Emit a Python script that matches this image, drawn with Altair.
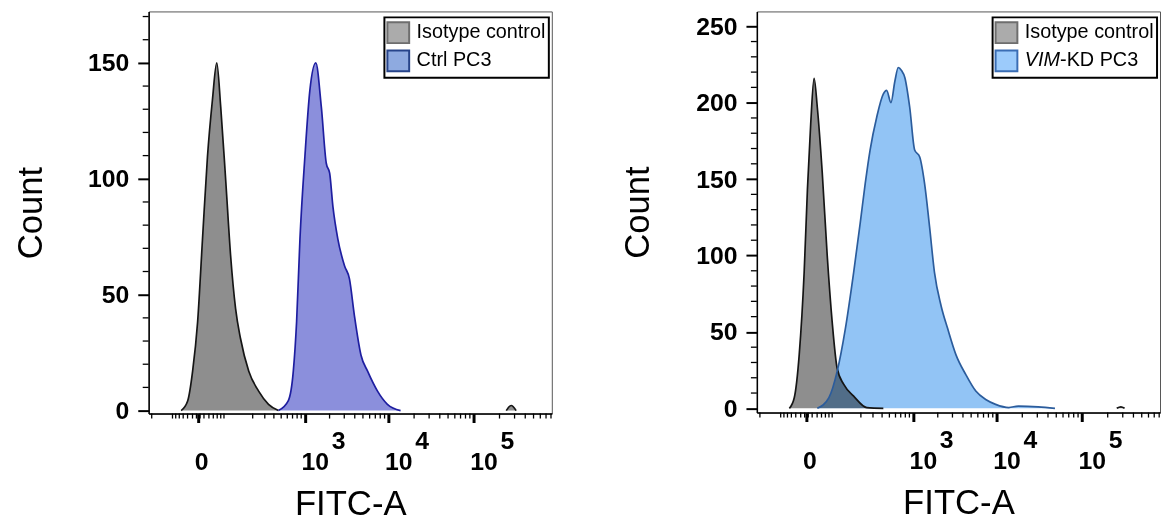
import altair as alt
import pandas as pd

FONT = "Liberation Sans"

# ---------------- data: FITC-A intensity (x) and event count (y) ----------------
# Left panel: Isotype control vs Ctrl PC3
iso1_x = [-35, -19.8, -9.8, -1.1, 7.3, 16.9, 27.9, 38.8, 49.9, 65.6, 83.5, 104, 127, 174, 245, 338, 460]
iso1_y = [0, 4.1, 17, 38, 74, 109.5, 134, 150, 131, 99.6, 66.8, 44, 31.2, 17, 8.4, 2.7, 0]
iso1_tail_x = [240000, 274000, 313000]
iso1_tail_y = [0, 2.2, 0]
ctrl_x = [460, 619, 716, 788, 868, 1000, 1151, 1362, 1590, 1825, 2005, 2195, 2515, 3020,
          3460, 3960, 4735, 5675, 7430, 9720, 13880]
ctrl_y = [0, 4.3, 17, 38.3, 74, 109.5, 138, 150, 131, 106.7, 102.4, 88, 74, 62.5,
          56.8, 41, 24, 17, 8.4, 2.7, 0]

# Right panel: Isotype control vs VIM-KD PC3
iso2_x = [-35, -23.3, -12.9, -3.8, 1.6, 7.3, 13.7, 20.4, 31.9, 45, 60, 77, 104, 154, 245, 416]
iso2_y = [0, 6.9, 35, 89, 143, 186, 216, 197, 154, 100, 56.6, 26.4, 15.6, 8, 0.5, 0]
iso2_tail_x = [255000, 285000, 315000]
iso2_tail_y = [0, 1, 0]
vim_x = [20.4, 49.9, 77, 111, 154, 195, 232, 273, 338, 416, 460, 524, 589, 651, 716, 788,
         908, 1046, 1204, 1385, 1590, 1825, 2195, 2635, 3305, 4330, 5675, 7430, 9720,
         13880, 18000, 30700, 48300]
vim_y = [0, 7, 24, 52, 89, 121, 147, 169, 190.5, 205.7, 208, 200, 214, 223, 221, 216.5,
         197, 169, 164.6, 147, 119, 89, 67, 52, 35, 22, 11.3, 5.8, 2.6,
         0.5, 1.5, 1, 0]

# legend texts
legend_iso = "Isotype control"
legend_ctrl = "Ctrl PC3"
legend_vim_italic = "VIM"
legend_vim_rest = "-KD PC3"

# axis ticks
x_major = [0, 1000, 10000, 100000]
x_sup = ["3", "4", "5"]
x_sup_at = [1000, 10000, 100000]
x_minor = [-150, -60, -50, -40, -30, -20, -10, -3, 3, 10, 20, 30, 40, 50, 60,
           200, 300, 400, 500, 600, 700, 800, 900,
           2000, 3000, 4000, 5000, 6000, 7000, 8000, 9000,
           20000, 30000, 40000, 50000, 60000, 70000, 80000, 90000,
           200000, 300000, 400000, 500000, 600000, 700000, 800000]
y_major_left = [0, 50, 100, 150]
y_minor_left = [10, 20, 30, 40, 60, 70, 80, 90, 110, 120, 130, 140, 160, 170]
y_major_right = [0, 50, 100, 150, 200, 250]
y_minor_right = [10, 20, 30, 40, 60, 70, 80, 90, 110, 120, 130, 140, 160, 170, 180, 190,
                 210, 220, 230, 240]

# colours
GRAY_FILL = "#8e8e8e"
GRAY_LINE = "#151515"
CTRL_FILL = "#8b8fdc"
CTRL_LINE = "#1e1ea0"
VIM_FILL = "#92c4f5"
VIM_LINE = "#2b5c9c"
ISO_SW_FILL, ISO_SW_STROKE = "#ababab", "#6e6e6e"
CTRL_SW_FILL, CTRL_SW_STROKE = "#8eaae0", "#27448a"
VIM_SW_FILL, VIM_SW_STROKE = "#9ccbfb", "#3a6db4"

W = 407
XS = alt.Scale(type="symlog", constant=60, domain=[-168, 818000], nice=False)


def series(parts):
    rows = []
    for i, (xs, ys) in enumerate(parts):
        for a, b in zip(xs, ys):
            rows.append({"x": a, "count": b, "seg": i})
    return pd.DataFrame(rows)


def panel(iso_parts, samp_parts, samp_fill, samp_line, ydom, H, y_major, y_minor,
          title_x, legend_rows):
    X = alt.X("x:Q", scale=XS, title="FITC-A",
              axis=alt.Axis(values=x_major, labelExpr="datum.value == 0 ? '0' : '10'",
                            labelAlign="left", labelOffset=-4, labelBaseline="alphabetic",
                            labelPadding=47, labelFontSize=25, labelFont=FONT,
                            labelFontWeight="bold", labelColor="black", labelFlush=False,
                            labelOverlap=False, tickSize=9, tickWidth=3, tickColor="black",
                            domainColor="black", domainWidth=1.5, grid=False,
                            titleFont=FONT, titleFontSize=35, titleFontWeight="normal",
                            titleColor="black", titleBaseline="alphabetic", titleY=102))
    Y = alt.Y("count:Q", stack=None, scale=alt.Scale(domain=ydom, nice=False), title="Count",
              axis=alt.Axis(values=y_major, tickSize=11, tickWidth=2, tickColor="black",
                            domainColor="black", domainWidth=1.5, grid=False,
                            labelFontSize=25, labelFont=FONT, labelFontWeight="bold",
                            labelColor="black", labelPadding=9, labelFlush=False,
                            labelOverlap=False, titleFont=FONT, titleFontSize=35,
                            titleFontWeight="normal", titleColor="black",
                            titleBaseline="alphabetic", titleX=title_x))
    iso = series(iso_parts)
    samp = series(samp_parts)
    layers = [
        alt.Chart(iso).mark_area(color=GRAY_FILL, opacity=1, interpolate="monotone")
        .encode(x=X, y=Y, detail="seg:N"),
        alt.Chart(samp).mark_area(color=samp_fill, opacity=1, interpolate="monotone",
                                  blend="multiply")
        .encode(x=X, y=Y, detail="seg:N"),
        alt.Chart(iso).mark_line(color=GRAY_LINE, strokeWidth=1.7, interpolate="monotone")
        .encode(x=X, y=Y, detail="seg:N"),
        alt.Chart(samp).mark_line(color=samp_line, strokeWidth=1.7, interpolate="monotone")
        .encode(x=X, y=Y, detail="seg:N"),
        alt.Chart(pd.DataFrame({"x": x_minor})).mark_rule(color="black", strokeWidth=1.3)
        .encode(x=X, y=alt.value(H), y2=alt.value(H + 5)),
        alt.Chart(pd.DataFrame({"count": y_minor})).mark_rule(color="black", strokeWidth=1.3)
        .encode(y=Y, x=alt.value(-6), x2=alt.value(0)),
        alt.Chart(pd.DataFrame({"x": x_sup_at, "sup": x_sup}))
        .mark_text(align="left", baseline="alphabetic", dx=27, fontSize=25, font=FONT,
                   fontWeight="bold", color="black")
        .encode(x=X, y=alt.value(H + 36), text="sup:N"),
        # legend box
        alt.Chart(pd.DataFrame({"a": [0]})).mark_rect(fill="white", stroke="black",
                                                       strokeWidth=2)
        .encode(x=alt.value(238), x2=alt.value(W - 3), y=alt.value(6), y2=alt.value(67)),
    ]
    for i, (parts, sw_fill, sw_stroke) in enumerate(legend_rows):
        y0 = 11 + i * 28.5
        layers.append(
            alt.Chart(pd.DataFrame({"a": [0]})).mark_rect(fill=sw_fill, stroke=sw_stroke,
                                                           strokeWidth=2)
            .encode(x=alt.value(241), x2=alt.value(263), y=alt.value(y0),
                    y2=alt.value(y0 + 21)))
        xoff = 270.5
        for text, style, width in parts:
            layers.append(
                alt.Chart(pd.DataFrame({"t": [text]}))
                .mark_text(align="left", baseline="alphabetic", fontSize=20, font=FONT,
                           fontStyle=style, color="black")
                .encode(x=alt.value(xoff), y=alt.value(y0 + 16), text="t:N"))
            xoff += width
    return alt.layer(*layers).properties(width=W, height=H)


left = panel([(iso1_x, iso1_y), (iso1_tail_x, iso1_tail_y)], [(ctrl_x, ctrl_y)],
             CTRL_FILL, CTRL_LINE, [-1.3, 172.2], 406, y_major_left, y_minor_left, -108,
             [([(legend_iso, "normal", 0)], ISO_SW_FILL, ISO_SW_STROKE),
              ([(legend_ctrl, "normal", 0)], CTRL_SW_FILL, CTRL_SW_STROKE)])
right = panel([(iso2_x, iso2_y), (iso2_tail_x, iso2_tail_y)], [(vim_x, vim_y)],
              VIM_FILL, VIM_LINE, [-2.8, 259.7], 405, y_major_right, y_minor_right, -109,
              [([(legend_iso, "normal", 0)], ISO_SW_FILL, ISO_SW_STROKE),
               ([(legend_vim_italic, "italic", 35.6), (legend_vim_rest, "normal", 0)],
                VIM_SW_FILL, VIM_SW_STROKE)])

chart = (alt.hconcat(left, right, spacing=68)
         .configure_view(stroke="#555555", strokeWidth=1)
         .properties(padding={"left": 5, "top": 0, "right": 0, "bottom": 0},
                     background="white"))

chart.save("out.html", embed_options={"renderer": "svg", "actions": False})
